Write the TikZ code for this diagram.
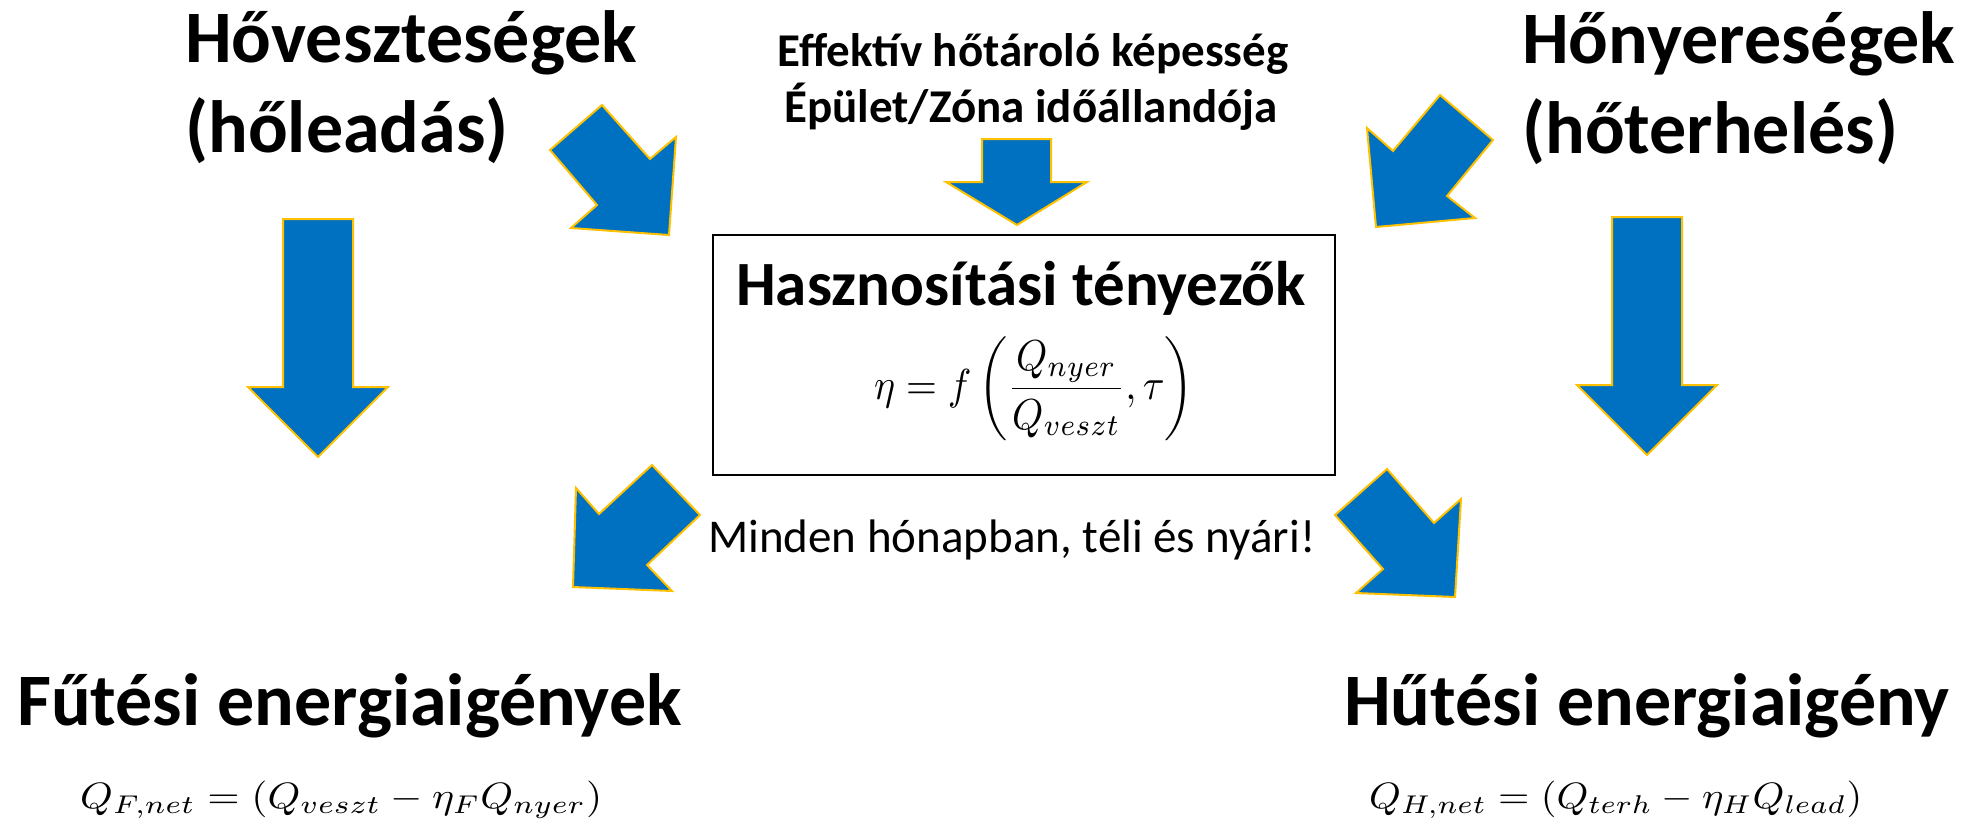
\documentclass[tikz,border=0pt]{standalone}
\usepackage{fontspec}
\setmainfont{Carlito}
\usepackage{amsmath}
\usepackage{graphicx}
\definecolor{arrblue}{HTML}{0070C0}
\definecolor{arrgold}{HTML}{FFC000}
\newcommand{\boxtitlefont}{\bfseries\fontsize{63}{76}\selectfont}
\tikzset{
  blockarrow/.style={fill=arrblue, draw=arrgold, line width=2pt, line join=miter},
  bigtitle/.style={font=\bfseries\fontsize{74}{88}\selectfont, inner sep=0pt},
  midtitle/.style={font=\bfseries\fontsize{47}{58}\selectfont, inner sep=0pt},
  plaintext/.style={font=\fontsize{47}{58}\selectfont, inner sep=0pt},
  mathtext/.style={inner sep=0pt},
  framebox/.style={draw=black, line width=2pt, inner sep=0pt}
}
\begin{document}
\begin{tikzpicture}[x=1pt,y=-1pt]
\useasboundingbox (0,0) rectangle (1970,820);

% titles
\node[bigtitle, anchor=base west] (loss1) at (185,62) {Hőveszteségek};
\node[bigtitle, anchor=base west] (loss2) at (185,152) {(hőleadás)};
\node[bigtitle, anchor=base west] (gain1) at (1522,63) {Hőnyereségek};
\node[bigtitle, anchor=base west] (gain2) at (1522,153) {(hőterhelés)};
\node[midtitle, anchor=base] (eff1) at (1033,66) {Effektív hőtároló képesség};
\node[midtitle, anchor=base] (eff2) at (1031,122) {Épület/Zóna időállandója};

% central box with its title and formula
\node[framebox, minimum width=622pt, minimum height=240pt, text height=50pt, text depth=150pt] (box) at (1024,355)
  {\vtop{\offinterlineskip
     \hbox to 0pt{\hss\smash{\boxtitlefont Hasznosítási tényezők}\hss\kern6pt}%
     \kern86pt
     \hbox to 0pt{\kern20pt\hss\smash{$\vcenter{\hbox{\resizebox*{320pt}{104pt}{$\displaystyle \eta = f\left(\frac{Q_{nyer}}{Q_{veszt}},\tau\right)$}}}$}\hss}}};

\node[plaintext, anchor=base west] (month) at (708,552) {Minden hónapban, téli és nyári!};

% bottom
\node[bigtitle, anchor=base west] (heat) at (17,725) {Fűtési energiaigények};
\node[bigtitle, anchor=base west] (cool) at (1344,725) {Hűtési energiaigény};
\node[mathtext, anchor=base west] (qf) at (80,808) {\resizebox*{522pt}{38pt}{$Q_{F,net} = (Q_{veszt} - \eta_F Q_{nyer})$}};
\node[mathtext, anchor=base west] (qh) at (1369,808) {\resizebox*{493pt}{38pt}{$Q_{H,net} = (Q_{terh} - \eta_H Q_{lead})$}};

% block arrows
% left vertical
\draw[blockarrow] (283,219) -- (353,219) -- (353,387) -- (388,387) -- (318,457) -- (248,387) -- (283,387) -- cycle;
% right vertical
\draw[blockarrow] (1612,217) -- (1682,217) -- (1682,385) -- (1717,385) -- (1647,455) -- (1577,385) -- (1612,385) -- cycle;
% center vertical
\draw[blockarrow] (982,139) -- (1051,139) -- (1051,182) -- (1087,182) -- (1017,225) -- (946,182) -- (982,182) -- cycle;
% upper left diagonal
\draw[blockarrow] (602,105) -- (650,159) -- (676,137) -- (669,235) -- (571,228) -- (597,205) -- (550,150) -- cycle;
% upper right diagonal
\draw[blockarrow] (1440,95) -- (1493,140) -- (1447,196) -- (1475,218) -- (1376,227) -- (1367,128) -- (1393,151) -- cycle;
% lower left diagonal
\draw[blockarrow] (652,465) -- (700,515) -- (647,565) -- (672,591) -- (573,587) -- (576,488) -- (599,514) -- cycle;
% lower right diagonal
\draw[blockarrow] (1387,469) -- (1434,523) -- (1461,499) -- (1455,597) -- (1356,593) -- (1383,569) -- (1335,515) -- cycle;
\end{tikzpicture}
\end{document}
